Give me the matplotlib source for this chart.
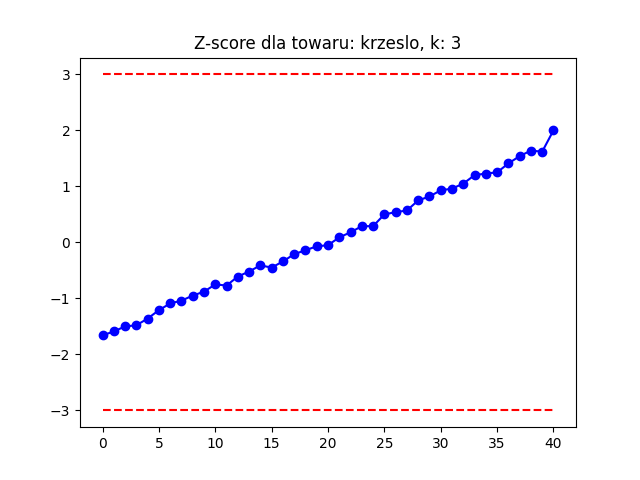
import matplotlib
matplotlib.use("Agg")
from matplotlib import pyplot as plt

# z-score values
x = list(range(41))
z = [-1.66, -1.59, -1.50, -1.48, -1.36, -1.21, -1.09, -1.04, -0.95, -0.88,
     -0.75, -0.77, -0.61, -0.52, -0.41, -0.45, -0.34, -0.21, -0.14, -0.07,
     -0.05, 0.09, 0.18, 0.29, 0.29, 0.50, 0.54, 0.57, 0.75, 0.82,
     0.93, 0.96, 1.05, 1.20, 1.23, 1.25, 1.41, 1.54, 1.64, 1.62, 2.00]
k = 3

plt.figure(figsize=(6.4, 4.8), dpi=100)
plt.plot(x, z, color='blue', marker='o')
plt.plot([x[0], x[-1]], [k, k], 'r--')
plt.plot([x[0], x[-1]], [-k, -k], 'r--')
plt.title('Z-score dla towaru: krzeslo, k: 3')
plt.savefig('out.png')
